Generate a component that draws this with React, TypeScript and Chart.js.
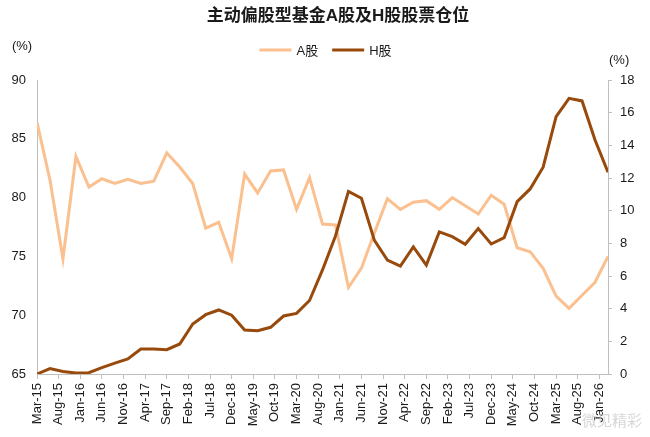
import { useEffect, useRef } from 'react';
import { Chart, registerables } from 'chart.js';
import type { ChartOptions, Plugin } from 'chart.js';

Chart.register(...registerables);

// quarterly observations
const quarters = [
    'Mar-15', 'Jun-15', 'Sep-15', 'Dec-15', 'Mar-16', 'Jun-16', 'Sep-16', 'Dec-16',
    'Mar-17', 'Jun-17', 'Sep-17', 'Dec-17', 'Mar-18', 'Jun-18', 'Sep-18', 'Dec-18',
    'Mar-19', 'Jun-19', 'Sep-19', 'Dec-19', 'Mar-20', 'Jun-20', 'Sep-20', 'Dec-20',
    'Mar-21', 'Jun-21', 'Sep-21', 'Dec-21', 'Mar-22', 'Jun-22', 'Sep-22', 'Dec-22',
    'Mar-23', 'Jun-23', 'Sep-23', 'Dec-23', 'Mar-24', 'Jun-24', 'Sep-24', 'Dec-24',
    'Mar-25', 'Jun-25', 'Sep-25', 'Dec-25', 'Mar-26',
];

// A股仓位 (left axis, %)
const aShare = [
    86.4, 81.5, 74.8, 83.5, 80.9, 81.6, 81.2, 81.55,
    81.2, 81.4, 83.8, 82.6, 81.2, 77.4, 77.9, 74.8,
    82.0, 80.4, 82.26, 82.35, 79.0, 81.7, 77.75, 77.67,
    72.35, 74.0, 77.0, 79.9, 79.0, 79.6, 79.74, 79.0,
    80.0, 79.3, 78.6, 80.2, 79.43, 75.74, 75.4, 73.98,
    71.63, 70.58, 71.7, 72.8, 75.0,
];

// H股仓位 (right axis, %)
const hShare = [
    0.0, 0.33, 0.15, 0.06, 0.08, 0.39, 0.67, 0.92,
    1.53, 1.53, 1.49, 1.84, 3.06, 3.63, 3.92, 3.6,
    2.69, 2.65, 2.86, 3.55, 3.71, 4.5, 6.37, 8.45,
    11.18, 10.76, 8.18, 6.98, 6.61, 7.78, 6.67, 8.7,
    8.41, 7.94, 8.9, 7.96, 8.35, 10.55, 11.33, 12.66,
    15.76, 16.88, 16.72, 14.33, 12.35,
];

const tickLabels = [
    'Mar-15', 'Aug-15', 'Jan-16', 'Jun-16', 'Nov-16', 'Apr-17', 'Sep-17', 'Feb-18',
    'Jul-18', 'Dec-18', 'May-19', 'Oct-19', 'Mar-20', 'Aug-20', 'Jan-21', 'Jun-21',
    'Nov-21', 'Apr-22', 'Sep-22', 'Feb-23', 'Jul-23', 'Dec-23', 'May-24', 'Oct-24',
    'Mar-25', 'Aug-25', 'Jan-26',
];

const TITLE = '主动偏股型基金A股及H股股票仓位';
const FONT = "'Liberation Sans', Arial, 'Noto Sans CJK SC', sans-serif";
const A_COLOR = '#FBC08F';
const H_COLOR = '#974A0C';
const AXIS_COLOR = '#BFBFBF';

const MONTHS = ['Jan', 'Feb', 'Mar', 'Apr', 'May', 'Jun', 'Jul', 'Aug', 'Sep', 'Oct', 'Nov', 'Dec'];

// months since Mar-15
const monthIndex = (label: string) => {
    const [m, y] = label.split('-');
    return (Number(y) - 15) * 12 + MONTHS.indexOf(m) - 2;
};

const tickMap = new Map(tickLabels.map((t) => [monthIndex(t), t]));

// title, legend and unit labels
const overlay: Plugin<'line'> = {
    id: 'overlay',
    afterDraw(chart) {
        const { ctx } = chart;
        ctx.save();
        ctx.fillStyle = '#1a1a1a';
        ctx.textBaseline = 'middle';

        ctx.font = `bold 17px ${FONT}`;
        ctx.textAlign = 'center';
        ctx.fillText(TITLE, 338, 16);

        // legend
        ctx.font = `13px ${FONT}`;
        ctx.textAlign = 'left';
        const lineLen = 32;
        const gap = 5;
        const itemGap = 14;
        const items = chart.data.datasets.map((ds) => ({
            label: ds.label as string,
            color: ds.borderColor as string,
            w: lineLen + gap + ctx.measureText(ds.label as string).width,
        }));
        const total = items.reduce((s, it) => s + it.w, 0) + itemGap * (items.length - 1);
        let x = 325.5 - total / 2;
        const ly = 50;
        items.forEach((it) => {
            ctx.strokeStyle = it.color;
            ctx.lineWidth = 3;
            ctx.beginPath();
            ctx.moveTo(x, ly);
            ctx.lineTo(x + lineLen, ly);
            ctx.stroke();
            ctx.fillStyle = '#1a1a1a';
            ctx.fillText(it.label, x + lineLen + gap, ly + 1);
            x += it.w + itemGap;
        });

        // units
        ctx.textAlign = 'center';
        ctx.fillText('(%)', 22, 46);
        ctx.textAlign = 'left';
        ctx.fillText('(%)', 609, 60);

        // watermark
        ctx.font = `15px ${FONT}`;
        ctx.fillStyle = 'rgba(200,200,200,0.75)';
        ctx.fillText('微见精彩', 582, 422);
        ctx.restore();
    },
};

const App: React.FC = () => {
    const chartRef = useRef<HTMLCanvasElement | null>(null);

    useEffect(() => {
        const ctx = chartRef.current?.getContext('2d');
        if (!ctx) return;

        const xs = quarters.map(monthIndex);

        const options: ChartOptions<'line'> = {
            responsive: true,
            maintainAspectRatio: false,
            animation: false,
            layout: { padding: { top: 80, left: 0, right: 0, bottom: 0 } },
            plugins: {
                legend: { display: false },
                title: { display: false },
                tooltip: { enabled: false },
            },
            elements: {
                point: { radius: 0 },
                line: { tension: 0, borderWidth: 3 },
            },
            scales: {
                x: {
                    type: 'linear',
                    min: 0,
                    max: monthIndex(quarters[quarters.length - 1]),
                    afterBuildTicks: (scale) => {
                        scale.ticks = tickLabels.map((t) => ({ value: monthIndex(t) }));
                    },
                    afterFit: (scale) => {
                        scale.height = 63;
                    },
                    grid: {
                        display: true,
                        drawOnChartArea: false,
                        drawTicks: true,
                        tickLength: 5,
                        color: AXIS_COLOR,
                    },
                    border: { display: true, color: AXIS_COLOR, width: 1 },
                    ticks: {
                        autoSkip: false,
                        minRotation: 90,
                        maxRotation: 90,
                        padding: 4,
                        color: '#1a1a1a',
                        font: { family: FONT, size: 13 },
                        callback: (v) => tickMap.get(Number(v)) ?? '',
                    },
                },
                y: {
                    position: 'left',
                    min: 65,
                    max: 90,
                    afterFit: (scale) => {
                        scale.width = 37;
                    },
                    grid: { display: false, drawTicks: false },
                    border: { display: true, color: AXIS_COLOR, width: 1 },
                    ticks: {
                        stepSize: 5,
                        padding: 11,
                        color: '#1a1a1a',
                        font: { family: FONT, size: 13 },
                    },
                },
                y1: {
                    position: 'right',
                    min: 0,
                    max: 18,
                    afterFit: (scale) => {
                        scale.width = 42;
                    },
                    grid: {
                        display: true,
                        drawOnChartArea: false,
                        drawTicks: true,
                        tickLength: 4,
                        color: AXIS_COLOR,
                    },
                    border: { display: true, color: AXIS_COLOR, width: 1 },
                    ticks: {
                        stepSize: 2,
                        padding: 8,
                        color: '#1a1a1a',
                        font: { family: FONT, size: 13 },
                    },
                },
            },
        };

        const chart = new Chart(ctx, {
            type: 'line',
            data: {
                datasets: [
                    {
                        label: 'A股',
                        data: aShare.map((v, i) => ({ x: xs[i], y: v })),
                        borderColor: A_COLOR,
                        backgroundColor: A_COLOR,
                        yAxisID: 'y',
                        order: 1,
                    },
                    {
                        label: 'H股',
                        data: hShare.map((v, i) => ({ x: xs[i], y: v })),
                        borderColor: H_COLOR,
                        backgroundColor: H_COLOR,
                        yAxisID: 'y1',
                        order: 0,
                    },
                ],
            },
            options,
            plugins: [overlay],
        });

        return () => {
            chart.destroy();
        };
    }, []);

    return (
        <div style={{ position: 'fixed', left: 0, top: 0, width: 650, height: 437, background: '#fff' }}>
            <canvas ref={chartRef} style={{ width: '100%', height: '100%' }}></canvas>
        </div>
    );
};

export default App;
